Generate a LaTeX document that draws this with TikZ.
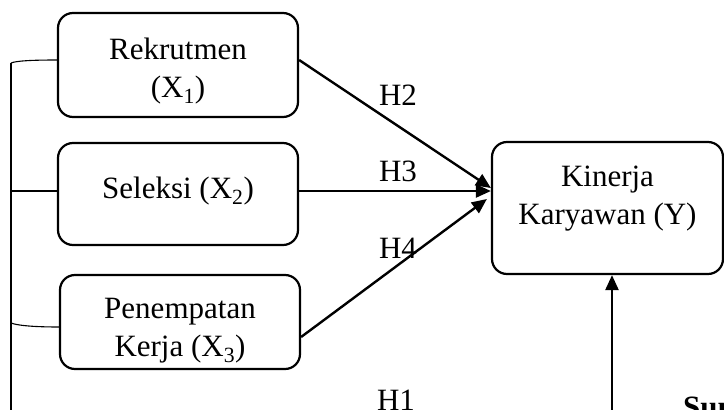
\documentclass[tikz,border=0pt]{standalone}
\usepackage{fontspec}
\setmainfont{Liberation Serif}
\usetikzlibrary{arrows.meta}
\tikzset{
  varbox/.style={draw, line width=2.2pt, rounded corners=15pt, inner sep=0pt},
  lbl/.style={font=\fontsize{31}{38}\selectfont, align=center, inner sep=0pt},
  path arrow/.style={line width=2.4pt, -{Triangle[length=15pt,width=13pt]}},
  bracket/.style={line width=1.1pt}
}
\begin{document}
\begin{tikzpicture}[x=1pt,y=-1pt]
\clip (0,0) rectangle (724,410);
\useasboundingbox (0,0) rectangle (724,410);

% independent variables
\node[varbox, minimum width=240pt, minimum height=104pt] (rek) at (178,65) {};
\node[lbl] (rekt) at (178,71) {Rekrutmen\\(X\textsubscript{1})};
\node[varbox, minimum width=240pt, minimum height=102pt] (sel) at (178,194) {};
\node[lbl] (selt) at (178,191) {Seleksi (X\textsubscript{2})};
\node[varbox, minimum width=240pt, minimum height=94pt] (pen) at (180,322) {};
\node[lbl] (pent) at (180,331) {Penempatan\\Kerja (X\textsubscript{3})};

% dependent variable
\node[varbox, minimum width=231pt, minimum height=132pt] (kin) at (607.5,208) {};
\node[lbl] (kint) at (607.5,199) {Kinerja\\Karyawan (Y)};

% partial effects
\draw[path arrow] ([yshift=5pt]rek.east) -- ([yshift=20pt]kin.west);
\draw[path arrow] ([yshift=3pt]sel.east) -- ([yshift=17pt]kin.west);
\draw[path arrow] ([yshift=-15pt]pen.east) -- ([xshift=-4pt,yshift=9pt]kin.west);

\node[lbl] (h2) at (398,95) {H2};
\node[lbl] (h3) at (398,171) {H3};
\node[lbl] (h4) at (398,248) {H4};
\node[lbl] (h1) at (396,400) {H1};

% simultaneous effect
\coordinate (brtop) at (11,63);
\coordinate (brbot) at (11,425);
\coordinate (selin) at ([yshift=3pt]sel.west);
\coordinate (simul) at (612,425);
\draw[bracket] ([yshift=5pt]rek.west) .. controls (30,60) and (16,61) .. (brtop);
\draw[bracket] (selin) -- (selin -| brtop);
\draw[bracket] ([yshift=-5pt]pen.west) .. controls (30,327) and (16,325) .. (11,323);
\draw[bracket] (brtop) -- (brbot);
\draw[path arrow] (simul) -- (simul |- kin.south);

\node[lbl, anchor=base west, font=\fontsize{31}{38}\selectfont\bfseries] (src) at (683,417) {Sumber};
\end{tikzpicture}
\end{document}
